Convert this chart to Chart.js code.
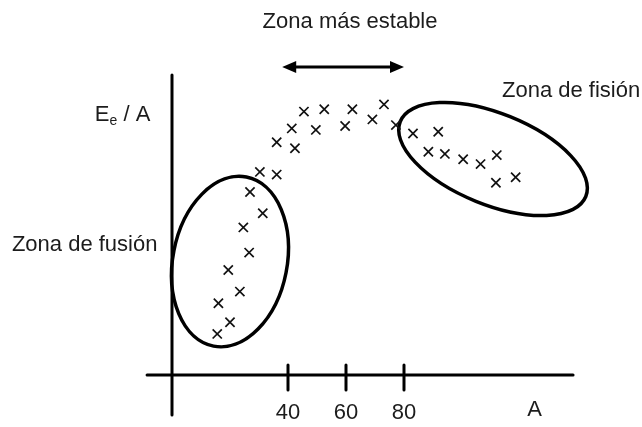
<!DOCTYPE html>
<html>
<head>
<meta charset="utf-8">
<script src="https://cdn.jsdelivr.net/npm/chart.js@4/dist/chart.umd.min.js"></script>
<style>
  html, body { margin: 0; padding: 0; background: #fff; }
  canvas { display: block; }
</style>
</head>
<body>
<canvas id="c" width="642" height="427"></canvas>
<script>
// mass number A of each marked nucleus
const massNumbers = [
  15.6, 20.0, 16.0, 23.4, 19.4, 26.6, 24.6, 31.3, 26.9, 30.3, 36.1,
  36.1, 42.4, 41.3, 49.6, 45.5, 52.5, 59.7, 62.2, 69.1, 73.1, 77.2,
  83.1, 91.8, 88.4, 94.1, 100.4, 106.4, 112.0, 111.7, 118.5
];
// binding energy per nucleon (arbitrary units, no scale printed)
const energyPerNucleon = [
  13.7, 17.6, 23.9, 27.8, 35.0, 40.8, 49.2, 53.9, 61.0, 67.7, 66.8,
  77.6, 75.6, 82.2, 81.7, 87.8, 88.6, 83.0, 88.6, 85.2, 90.2, 83.3,
  80.5, 81.1, 74.4, 73.7, 71.9, 70.3, 73.3, 64.1, 65.9
];
const tickValues = [40, 60, 80];
const tickLabels = ['40', '60', '80'];
const axisTitleX = 'A';
const zoneFusion = 'Zona de fusión';
const zoneStable = 'Zona más estable';
const zoneFission = 'Zona de fisión';
const stableRange = [38, 80];

// ellipses around the zones: centre and half sizes in data units, tilt in degrees
const ellipses = [
  { cx: 20, cy: 37.8, rx: 19.7, ry: 28.7, tilt: 11 },
  { cx: 110.7, cy: 72, rx: 34.5, ry: 15.2, tilt: 22 }
];

const FONT = '"Liberation Sans", Arial, Helvetica, sans-serif';

const sketch = {
  id: 'sketch',
  beforeDatasetsDraw(chart) {
    const { ctx, scales: { x, y } } = chart;
    const px = v => x.getPixelForValue(v);
    const py = v => y.getPixelForValue(v);
    const line = (x1, y1, x2, y2) => {
      ctx.beginPath(); ctx.moveTo(x1, y1); ctx.lineTo(x2, y2); ctx.stroke();
    };

    ctx.save();
    ctx.strokeStyle = '#000';
    ctx.fillStyle = '#000';

    // axes
    ctx.lineWidth = 3;
    ctx.lineCap = 'round';
    line(px(0), py(100), px(0), py(-13.3));
    line(px(-8.6), py(0), px(138.3), py(0));
    tickValues.forEach(v => line(px(v), py(3.3), px(v), py(-5)));

    // zone ellipses
    ctx.lineWidth = 3.5;
    ellipses.forEach(e => {
      const cx = px(e.cx), cy = py(e.cy);
      const rx = Math.abs(px(e.cx + e.rx) - cx);
      const ry = Math.abs(py(e.cy + e.ry) - cy);
      ctx.beginPath();
      ctx.ellipse(cx, cy, rx, ry, e.tilt * Math.PI / 180, 0, Math.PI * 2);
      ctx.stroke();
    });

    // double arrow over the stable zone
    const ay = py(102.7);
    const a1 = px(stableRange[0]), a2 = px(stableRange[1]);
    ctx.lineWidth = 3;
    ctx.lineCap = 'butt';
    line(a1 + 8, ay, a2 - 8, ay);
    ctx.beginPath();
    ctx.moveTo(a1, ay); ctx.lineTo(a1 + 14, ay - 6); ctx.lineTo(a1 + 14, ay + 6);
    ctx.closePath(); ctx.fill();
    ctx.beginPath();
    ctx.moveTo(a2, ay); ctx.lineTo(a2 - 14, ay - 6); ctx.lineTo(a2 - 14, ay + 6);
    ctx.closePath(); ctx.fill();

    // texts
    ctx.fillStyle = '#1c1c1c';
    ctx.font = '22px ' + FONT;
    ctx.textBaseline = 'middle';

    ctx.textAlign = 'center';
    ctx.fillText(zoneStable, px(61.4), py(117.7));
    tickValues.forEach((v, i) => ctx.fillText(tickLabels[i], px(v), py(-12.7)));
    ctx.fillText(axisTitleX, px(125), py(-11.7));

    ctx.textAlign = 'left';
    ctx.fillText(zoneFission, px(113.8), py(94.7));
    ctx.fillText(zoneFusion, px(-55.2), py(43.3));

    // E_e / A
    ctx.textBaseline = 'alphabetic';
    let tx = px(-26.6);
    const base = py(84.7);
    ctx.fillText('E', tx, base);
    tx += ctx.measureText('E').width;
    ctx.font = '14px ' + FONT;
    ctx.fillText('e', tx, base + 4);
    tx += ctx.measureText('e').width;
    ctx.font = '22px ' + FONT;
    ctx.fillText(' / A', tx, base);

    ctx.restore();
  }
};

new Chart(document.getElementById('c'), {
  type: 'scatter',
  data: {
    datasets: [{
      data: massNumbers.map((a, i) => ({ x: a, y: energyPerNucleon[i] })),
      pointStyle: 'crossRot',
      pointRadius: 6.5,
      pointBorderWidth: 1.7,
      borderColor: '#111',
      backgroundColor: '#111'
    }]
  },
  options: {
    responsive: false,
    animation: false,
    devicePixelRatio: 1,
    layout: { padding: 0, autoPadding: false },
    plugins: { legend: { display: false }, tooltip: { enabled: false } },
    scales: {
      x: { type: 'linear', display: false, min: -59.31, max: 162.07 },
      y: { type: 'linear', display: false, min: -17.33, max: 125 }
    }
  },
  plugins: [sketch]
});
</script>
</body>
</html>
